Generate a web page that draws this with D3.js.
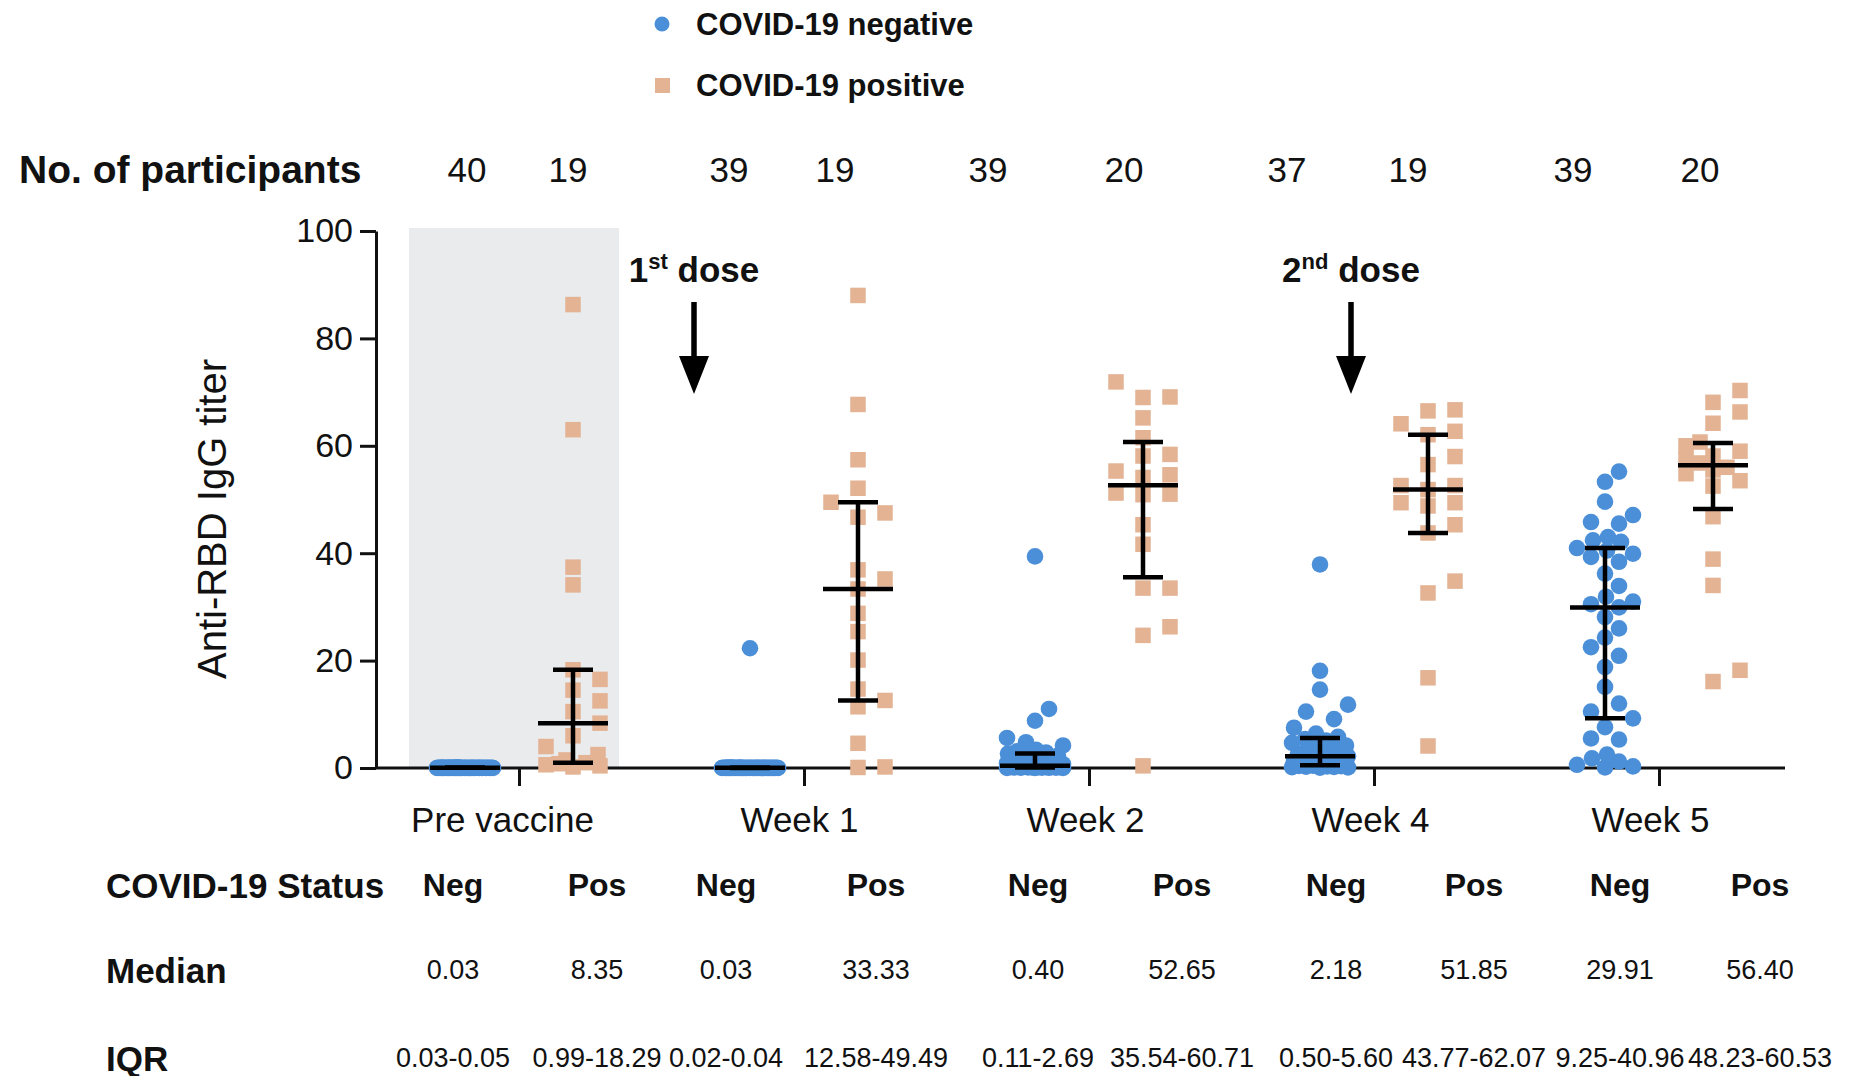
<!DOCTYPE html>
<html>
<head>
<meta charset="utf-8">
<script src="https://cdn.jsdelivr.net/npm/d3@7"></script>
<style>
  html, body { margin: 0; padding: 0; background: #ffffff; }
  svg text { font-family: "Liberation Sans", Arial, Helvetica, sans-serif; fill: #111; }
</style>
</head>
<body>
<svg id="chart" width="1850" height="1076"></svg>
<script>
// ---- Study design ----
const timepoints = ["Pre vaccine", "Week 1", "Week 2", "Week 4", "Week 5"];
const statuses = ["Neg", "Pos"];
const legendLabels = ["COVID-19 negative", "COVID-19 positive"];

// Participants per time point: [negative, positive]
const participants = [[40, 19], [39, 19], [39, 20], [37, 19], [39, 20]];

// Summary statistics per time point: [negative, positive]
const medians = [[0.03, 8.35], [0.03, 33.33], [0.40, 52.65], [2.18, 51.85], [29.91, 56.40]];
const iqrLow  = [[0.03, 0.99], [0.02, 12.58], [0.11, 35.54], [0.50, 43.77], [9.25, 48.23]];
const iqrHigh = [[0.05, 18.29], [0.04, 49.49], [2.69, 60.71], [5.60, 62.07], [40.96, 60.53]];

// Individual anti-RBD IgG titers
const preNeg = [0.01, 0.01, 0.01, 0.02, 0.02, 0.02, 0.02, 0.02,
  0.03, 0.03, 0.03, 0.03, 0.03, 0.03, 0.03, 0.03, 0.03, 0.03, 0.03, 0.03, 0.03, 0.03,
  0.04, 0.04, 0.04, 0.04, 0.04, 0.04, 0.05, 0.05, 0.05, 0.05, 0.05, 0.05,
  0.06, 0.06, 0.06, 0.07, 0.07, 0.09];
const prePos = [0.2, 0.4, 0.6, 0.8, 0.99, 1.5, 2.5, 4.0, 6.0, 8.35, 10.5, 12.5, 14.5, 16.5, 18.29,
  34.1, 37.4, 63.0, 86.3];
const wk1Neg = [0.01, 0.01, 0.01, 0.01, 0.02, 0.02, 0.02, 0.02, 0.02, 0.02,
  0.02, 0.02, 0.02, 0.02, 0.03, 0.03, 0.03, 0.03, 0.03, 0.03,
  0.03, 0.03, 0.03, 0.03, 0.03, 0.04, 0.04, 0.04, 0.04, 0.04,
  0.04, 0.05, 0.05, 0.05, 0.06, 0.06, 0.07, 0.08, 22.3];
const wk1Pos = [0.1, 0.2, 4.6, 11.4, 12.58, 14.7, 20.1, 25.4, 28.8, 33.33,
  35.2, 36.9, 46.7, 47.5, 49.49, 52.1, 57.4, 67.7, 88.0];
const wk2Neg = [0.01, 0.02, 0.03, 0.04, 0.05, 0.06, 0.07, 0.08, 0.10, 0.11,
  0.13, 0.15, 0.18, 0.20, 0.23, 0.26, 0.30, 0.33, 0.37, 0.40,
  0.5, 0.7, 0.9, 1.1, 1.4, 1.7, 2.0, 2.3, 2.5, 2.69,
  2.9, 3.1, 3.4, 4.2, 4.8, 5.6, 8.8, 11.0, 39.4];
const wk2Pos = [0.4, 24.7, 26.3, 33.5, 33.5, 41.66, 45.3, 50.9, 51.0, 51.2,
  54.1, 54.6, 55.3, 58.1, 58.4, 61.5, 65.2, 69.0, 69.1, 71.9];
const wk4Neg = [0.05, 0.1, 0.15, 0.2, 0.25, 0.3, 0.35, 0.4, 0.45, 0.55,
  0.7, 0.9, 1.1, 1.3, 1.5, 1.7, 1.9, 2.05, 2.18,
  2.4, 2.7, 3.0, 3.4, 3.8, 4.2, 4.7, 5.1, 5.4, 5.8,
  6.4, 7.5, 9.1, 10.5, 11.8, 14.6, 18.1, 37.9];
const wk4Pos = [4.1, 16.8, 32.6, 34.8, 43.77, 45.3, 48.8, 49.4, 49.4, 51.85,
  52.6, 52.6, 56.5, 58.0, 62.07, 62.7, 64.1, 66.5, 66.7];
const wk5Neg = [0.1, 0.3, 0.6, 1.2, 1.8, 2.5, 5.3, 5.5, 7.6, 9.25,
  10.5, 12.0, 15.1, 18.8, 20.9, 22.5, 24.3, 26.0, 28.1, 29.91,
  30.5, 31.0, 31.9, 33.9, 36.2, 38.4, 39.3, 39.9, 40.5, 40.96,
  42.1, 42.4, 43.0, 45.5, 45.8, 47.1, 49.6, 53.3, 55.2];
const wk5Pos = [16.1, 18.2, 34.0, 38.9, 46.8, 52.5, 53.5, 54.8, 55.5, 56.0,
  56.8, 57.4, 58.1, 59.0, 60.0, 60.7, 64.2, 66.3, 68.1, 70.3];

const titers = [[preNeg, prePos], [wk1Neg, wk1Pos], [wk2Neg, wk2Pos], [wk4Neg, wk4Pos], [wk5Neg, wk5Pos]];

const yTicks = [0, 20, 40, 60, 80, 100];

// Vaccination events
const doses = [
  { num: "1", sup: "st", group: "Week 1", dx: -110 },
  { num: "2", sup: "nd", group: "Week 4", dx: -23 }
];

// ---- Layout ----
const colors = { Neg: "#4b8fd8", Pos: "#e3b394" };
const shade = "#e9ebec";
const countX = [467, 568, 729, 835, 988, 1124, 1287, 1408, 1573, 1700];
const tableX = [453, 597, 726, 876, 1038, 1182, 1336, 1474, 1620, 1760];
const labelShift = [-17, -5, -4, -4, -9];
const rowY = { count: 169, status: 885, median: 970, iqr: 1058 };

const axisLeftX = 376, axisRightX = 1785;
const svg = d3.select("#chart");

const y = d3.scaleLinear().domain([0, 100]).range([768, 231]);
const x = d3.scalePoint().domain(timepoints).range([519, 1659]);
const sub = d3.scalePoint().domain(statuses).range([-54, 54]);

// Shaded pre-vaccination period
svg.append("rect")
  .attr("x", x("Pre vaccine") - 110)
  .attr("y", y(100) - 3)
  .attr("width", 210)
  .attr("height", y(0) - y(100) + 3)
  .attr("fill", shade);

// ---- Axes ----
const yAxis = svg.append("g")
  .attr("transform", `translate(${axisLeftX},0)`)
  .call(d3.axisLeft(y).tickValues(yTicks).tickSize(16).tickSizeOuter(0).tickPadding(7));
yAxis.select(".domain").attr("stroke", "#111").attr("stroke-width", 3);
yAxis.selectAll(".tick line").attr("stroke", "#111").attr("stroke-width", 3);
yAxis.selectAll(".tick text").attr("font-size", 34).attr("fill", "#111")
  .style("font-family", "'Liberation Sans', Arial, sans-serif");

const xAxis = svg.append("g")
  .attr("transform", `translate(0,${y(0)})`)
  .call(d3.axisBottom(x).tickSize(18).tickSizeOuter(0));
xAxis.select(".domain").remove();
xAxis.insert("line", ":first-child")
  .attr("x1", axisLeftX).attr("x2", axisRightX)
  .attr("stroke", "#111").attr("stroke-width", 3);
xAxis.selectAll(".tick line").attr("stroke", "#111").attr("stroke-width", 3);
xAxis.selectAll(".tick text").attr("font-size", 35).attr("fill", "#111")
  .attr("x", (d, i) => labelShift[i]).attr("y", 52).attr("dy", "0.35em")
  .style("font-family", "'Liberation Sans', Arial, sans-serif");

// Y axis title
svg.append("text")
  .attr("transform", "translate(212,519) rotate(-90)")
  .attr("text-anchor", "middle").attr("dominant-baseline", "central")
  .attr("font-size", 40)
  .text("Anti-RBD IgG titer");

// ---- Scatter (beeswarm on discrete lanes, dense rows packed within the column width) ----
function swarm(values, yScale, size, step, lanes, square) {
  const pts = values.map(v => ({ v, y: yScale(v), dx: 0 }))
    .sort((a, b) => b.y - a.y);
  const offsets = [0];
  for (let k = 1; k <= lanes; k++) offsets.push(k * step, -k * step);
  const maxHalf = step * lanes;
  const clearance = (p, off, near) => {
    let clear = Infinity;
    for (const q of near) {
      const ddx = off - q.dx, ddy = p.y - q.y;
      const d = square ? Math.max(Math.abs(ddx), Math.abs(ddy)) : Math.hypot(ddx, ddy);
      clear = Math.min(clear, d - size);
    }
    return clear;
  };
  const placed = [];
  for (const p of pts) {
    const near = placed.filter(q => Math.abs(q.y - p.y) < size);
    let chosen = offsets.find(off => clearance(p, off, near) >= 0);
    if (chosen === undefined) {
      let best = -Infinity;
      for (let off = -maxHalf; off <= maxHalf; off += 1) {
        const c = clearance(p, off, near);
        if (c > best + 1e-9) { best = c; chosen = off; }
      }
    }
    p.dx = chosen;
    placed.push(p);
  }
  return pts;
}

const groups = [];
timepoints.forEach((t, i) => {
  statuses.forEach((s, j) => {
    groups.push({
      t, s, cx: x(t) + sub(s), values: titers[i][j],
      median: medians[i][j], lo: iqrLow[i][j], hi: iqrHigh[i][j]
    });
  });
});

const dotR = 8.3, sq = 15.5;
const marks = svg.append("g");
groups.forEach(g => {
  const sel = marks.append("g");
  if (g.s === "Neg") {
    const pts = swarm(g.values, y, 2 * dotR, 14, 2, false);
    sel.selectAll("circle").data(pts).join("circle")
      .attr("cx", d => g.cx + d.dx).attr("cy", d => d.y)
      .attr("r", dotR).attr("fill", colors.Neg);
  } else {
    const pts = swarm(g.values, y, sq + 0.5, 13.5, 2, true);
    sel.selectAll("rect").data(pts).join("rect")
      .attr("x", d => g.cx + d.dx - sq / 2).attr("y", d => d.y - sq / 2)
      .attr("width", sq).attr("height", sq).attr("fill", colors.Pos);
  }
});

// Median and interquartile range
const bars = svg.append("g").attr("stroke", "#000").attr("stroke-width", 4.5);
groups.forEach(g => {
  bars.append("line").attr("x1", g.cx).attr("x2", g.cx).attr("y1", y(g.lo)).attr("y2", y(g.hi));
  bars.append("line").attr("x1", g.cx - 20).attr("x2", g.cx + 20).attr("y1", y(g.lo)).attr("y2", y(g.lo));
  bars.append("line").attr("x1", g.cx - 20).attr("x2", g.cx + 20).attr("y1", y(g.hi)).attr("y2", y(g.hi));
  bars.append("line").attr("x1", g.cx - 35).attr("x2", g.cx + 35).attr("y1", y(g.median)).attr("y2", y(g.median));
});

// ---- Dose annotations ----
doses.forEach(d => {
  const ax = x(d.group) + d.dx;
  const t = svg.append("text").attr("x", ax).attr("y", 282)
    .attr("text-anchor", "middle").attr("font-weight", "bold").attr("font-size", 35);
  t.append("tspan").text(d.num);
  t.append("tspan").attr("font-size", 22).attr("dy", -13).text(d.sup);
  t.append("tspan").attr("dy", 13).text(" dose");
  svg.append("line").attr("x1", ax).attr("x2", ax).attr("y1", 302).attr("y2", 362)
    .attr("stroke", "#000").attr("stroke-width", 5.5);
  svg.append("path")
    .attr("d", `M${ax - 15},356 L${ax + 15},356 L${ax},394 Z`)
    .attr("fill", "#000");
});

// ---- Legend ----
const legend = svg.append("g");
legend.append("circle").attr("cx", 662).attr("cy", 24).attr("r", 7.5).attr("fill", colors.Neg);
legend.append("rect").attr("x", 655).attr("y", 78).attr("width", 15).attr("height", 15).attr("fill", colors.Pos);
legendLabels.forEach((l, i) => {
  legend.append("text").attr("x", 696).attr("y", 24 + i * 61)
    .attr("dominant-baseline", "central").attr("font-weight", "bold").attr("font-size", 31)
    .text(l);
});

// ---- Participant counts ----
svg.append("text").attr("x", 19).attr("y", rowY.count).attr("dominant-baseline", "central")
  .attr("font-weight", "bold").attr("font-size", 39).text("No. of participants");
svg.append("g").selectAll("text").data(participants.flat()).join("text")
  .attr("x", (d, i) => countX[i]).attr("y", rowY.count)
  .attr("text-anchor", "middle").attr("dominant-baseline", "central")
  .attr("font-size", 35).text(d => d);

// ---- Summary table ----
const rowLabels = [["COVID-19 Status", rowY.status], ["Median", rowY.median], ["IQR", rowY.iqr]];
rowLabels.forEach(([label, ry]) => {
  svg.append("text").attr("x", 106).attr("y", ry).attr("dominant-baseline", "central")
    .attr("font-weight", "bold").attr("font-size", 35).text(label);
});
const cells = groups.map((g, i) => ({ ...g, cx: tableX[i] }));
svg.append("g").selectAll("text").data(cells).join("text")
  .attr("x", d => d.cx).attr("y", rowY.status)
  .attr("text-anchor", "middle").attr("dominant-baseline", "central")
  .attr("font-weight", "bold").attr("font-size", 32).text(d => d.s);
svg.append("g").selectAll("text").data(cells).join("text")
  .attr("x", d => d.cx).attr("y", rowY.median)
  .attr("text-anchor", "middle").attr("dominant-baseline", "central")
  .attr("font-size", 27).text(d => d.median.toFixed(2));
svg.append("g").selectAll("text").data(cells).join("text")
  .attr("x", d => d.cx).attr("y", rowY.iqr)
  .attr("text-anchor", "middle").attr("dominant-baseline", "central")
  .attr("font-size", 27).text(d => `${d.lo.toFixed(2)}-${d.hi.toFixed(2)}`);
</script>
</body>
</html>
